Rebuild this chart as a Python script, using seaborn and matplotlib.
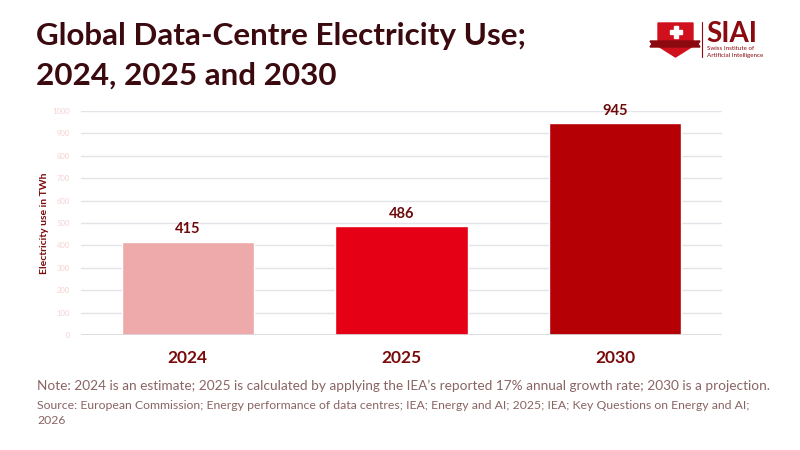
import matplotlib.pyplot as plt
import matplotlib.patches as mpatches
import seaborn as sns
import pandas as pd

years = ["2024", "2025", "2030"]
usage_twh = [415, 486, 945]
bar_colors = ["#EEAAAA", "#E60016", "#B50005"]

title_lines = ["Global Data-Centre Electricity Use;", "2024, 2025 and 2030"]
note = ("Note: 2024 is an estimate; 2025 is calculated by applying the IEA\u2019s "
        "reported 17% annual growth rate; 2030 is a projection.")
source = ("Source: European Commission; Energy performance of data centres; IEA; "
          "Energy and AI; 2025; IEA; Key Questions on Energy and AI;\n2026")

sns.set_theme(style="white")
plt.rcParams["font.family"] = ["Lato", "DejaVu Sans"]

df = pd.DataFrame({"year": years, "twh": usage_twh})

fig = plt.figure(figsize=(8, 4.5), dpi=100)
ax = fig.add_axes([81 / 800, 1 - 335 / 450, 641 / 800, 224 / 450])

sns.barplot(data=df, x="year", y="twh", hue="year", palette=bar_colors,
            width=0.62, legend=False, ax=ax, saturation=1)

ax.set_ylim(0, 1000)
ax.set_yticks(range(0, 1001, 100))
ax.yaxis.grid(True, color="#E3E3EA", linewidth=1)
ax.set_axisbelow(True)
for s in ax.spines.values():
    s.set_visible(False)
ax.axhline(0, color="#D8D8DE", linewidth=1.2, zorder=1)

ax.tick_params(axis="y", labelsize=5.5, labelcolor="#F6D2D2", length=0, pad=8)
ax.tick_params(axis="x", labelsize=12.5, labelcolor="#7A0A0A", length=0, pad=11)
for lbl in ax.get_xticklabels():
    lbl.set_fontweight("bold")
ax.set_xlabel("")
ax.set_ylabel("Electricity use in TWh", fontsize=7.5, fontweight="bold",
              color="#7A0A0A", labelpad=2)

for cont in ax.containers:
    ax.bar_label(cont, fmt="%d", padding=4, fontsize=10.5, fontweight="bold",
                 color="#6E0A0A")

for txt, ypx in zip(title_lines, [45, 85]):
    fig.text(36 / 800, 1 - ypx / 450, txt, fontsize=22.6, fontweight="bold",
             color="#3B0A0F", va="baseline")
fig.text(37 / 800, 1 - 386 / 450, note, fontsize=9.8, color="#8A6464", va="center")
fig.text(37 / 800, 1 - 400 / 450, source, fontsize=8.8, color="#8A6464",
         va="top", linespacing=1.4)

# logo, drawn in pixel coordinates
lax = fig.add_axes([645 / 800, 1 - 62 / 450, 125 / 800, 50 / 450])
lax.set_xlim(645, 770)
lax.set_ylim(62, 12)
lax.axis("off")
lax.add_patch(mpatches.Polygon([(658, 23), (693, 23), (693, 46), (675.5, 57), (658, 46)],
                               closed=True, color="#D0101C"))
lax.add_patch(mpatches.Polygon([(650, 41), (700, 41), (698, 44), (700, 47), (650, 47), (652, 44)],
                               closed=True, color="#8A0A10"))
lax.add_patch(mpatches.Rectangle((673.5, 26), 4, 12, color="white"))
lax.add_patch(mpatches.Rectangle((669.5, 30), 12, 4, color="white"))
lax.plot([702, 702], [22, 57], color="#8A0A10", linewidth=0.8)
lax.text(706, 42, "SIAI", fontsize=20, fontweight="bold", color="#8A0A10",
         va="baseline", ha="left")
lax.text(707, 49, "Swiss Institute of", fontsize=4.5, color="#8A0A10", va="center")
lax.text(707, 56, "Artificial Intelligence", fontsize=4.5, color="#8A0A10", va="center")

fig.savefig("out.png", dpi=100)
